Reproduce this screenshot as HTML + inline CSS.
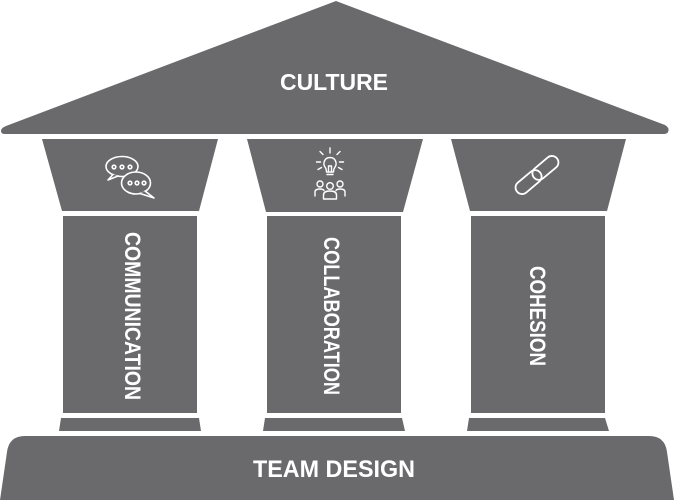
<!DOCTYPE html>
<html>
<head>
<meta charset="utf-8">
<style>
html,body{margin:0;padding:0;background:#fff;}
svg{display:block;}
text{font-family:"Liberation Sans",Arial,sans-serif;font-weight:bold;fill:#fff;}
</style>
</head>
<body>
<svg width="674" height="500" viewBox="0 0 674 500" xmlns="http://www.w3.org/2000/svg">
  <g fill="#6a6a6c">
    <path d="M336,1 L665,125 Q670,128 668,132 Q667,134 664,134 L5,134 Q1,134 1,131 Q1,128 6,126 Z"/>
    <polygon points="42,139 218,139 199,211 62,211"/>
    <polygon points="247,139 423,139 403,212 266,212"/>
    <polygon points="451,139 626,139 607,211 470,211"/>
    <rect x="63" y="216" width="134" height="197"/>
    <rect x="267" y="216" width="134" height="197"/>
    <rect x="471" y="216" width="134" height="197"/>
    <polygon points="61,418 199,418 201,431 59,431"/>
    <polygon points="265,418 402,418 405,431 263,431"/>
    <polygon points="469,418 605,418 609,431 467,431"/>
    <path d="M0,500 L7,452 Q9,436 25,436 L649,436 Q665,436 667,452 L674,500 Z"/>
  </g>

  <text x="334" y="90" font-size="23" text-anchor="middle" textLength="108" lengthAdjust="spacingAndGlyphs">CULTURE</text>
  <text x="334" y="477" font-size="24" text-anchor="middle" textLength="162" lengthAdjust="spacingAndGlyphs">TEAM DESIGN</text>
  <text transform="translate(133,316) rotate(90)" x="0" y="8" font-size="22" text-anchor="middle" textLength="168" lengthAdjust="spacingAndGlyphs">COMMUNICATION</text>
  <text transform="translate(332,316) rotate(90)" x="0" y="8" font-size="22" text-anchor="middle" textLength="158" lengthAdjust="spacingAndGlyphs">COLLABORATION</text>
  <text transform="translate(538,316) rotate(90)" x="0" y="8" font-size="22" text-anchor="middle" textLength="100" lengthAdjust="spacingAndGlyphs">COHESION</text>

  <g fill="#6a6a6c" stroke="#fff" stroke-width="1.6" stroke-linejoin="round" stroke-linecap="round">
    <ellipse cx="122" cy="166.5" rx="16" ry="10"/>
    <path d="M113,174.5 L108,180 L118,176"/>
    <circle cx="114" cy="167" r="1.8"/>
    <circle cx="122" cy="167" r="1.8"/>
    <circle cx="130" cy="167" r="1.8"/>
    <ellipse cx="136" cy="183" rx="14.5" ry="11"/>
    <path d="M145,191 L154,198 L140,193.5" />
    <circle cx="130" cy="183" r="1.8"/>
    <circle cx="137" cy="183" r="1.8"/>
    <circle cx="144" cy="183" r="1.8"/>
  </g>

  <g fill="none" stroke="#fff" stroke-width="1.4" stroke-linecap="round" stroke-linejoin="round">
    <path d="M326.5,172 Q326.5,169 325,167 Q323.5,165 324,162.5 Q325,157.5 330,157.5 Q335,157.5 336,162.5 Q336.5,165 335,167 Q333.5,169 333.5,172 Z"/>
    <line x1="327" y1="174.5" x2="333" y2="174.5"/>
    <path d="M328.5,172 L328.5,166 L331.5,166 L331.5,172"/>
    <line x1="330" y1="148" x2="330" y2="153"/>
    <line x1="320" y1="151.5" x2="323" y2="154.5"/>
    <line x1="340" y1="151.5" x2="337" y2="154.5"/>
    <line x1="316.5" y1="162" x2="320.5" y2="162"/>
    <line x1="343.5" y1="162" x2="339.5" y2="162"/>
    <line x1="318" y1="169.5" x2="321.5" y2="167.5"/>
    <line x1="342" y1="169.5" x2="338.5" y2="167.5"/>
    <circle cx="320" cy="184" r="3"/>
    <path d="M315,196 L315,192 Q315,189 320,189 Q323,189 324,190.5"/>
    <circle cx="340" cy="184" r="3"/>
    <path d="M345,196 L345,192 Q345,189 340,189 Q337,189 336,190.5"/>
    <circle cx="330" cy="186" r="3.3"/>
    <path d="M323.5,199 L323.5,195 Q323.5,191 330,191 Q336.5,191 336.5,195 L336.5,199 Z"/>
  </g>

  <g transform="translate(537,175) rotate(-40)" fill="none" stroke="#fff" stroke-width="1.8">
    <rect x="-26" y="-6.5" width="30" height="13" rx="6.5"/>
    <rect x="-4" y="-6.5" width="30" height="13" rx="6.5"/>
  </g>
</svg>
</body>
</html>
